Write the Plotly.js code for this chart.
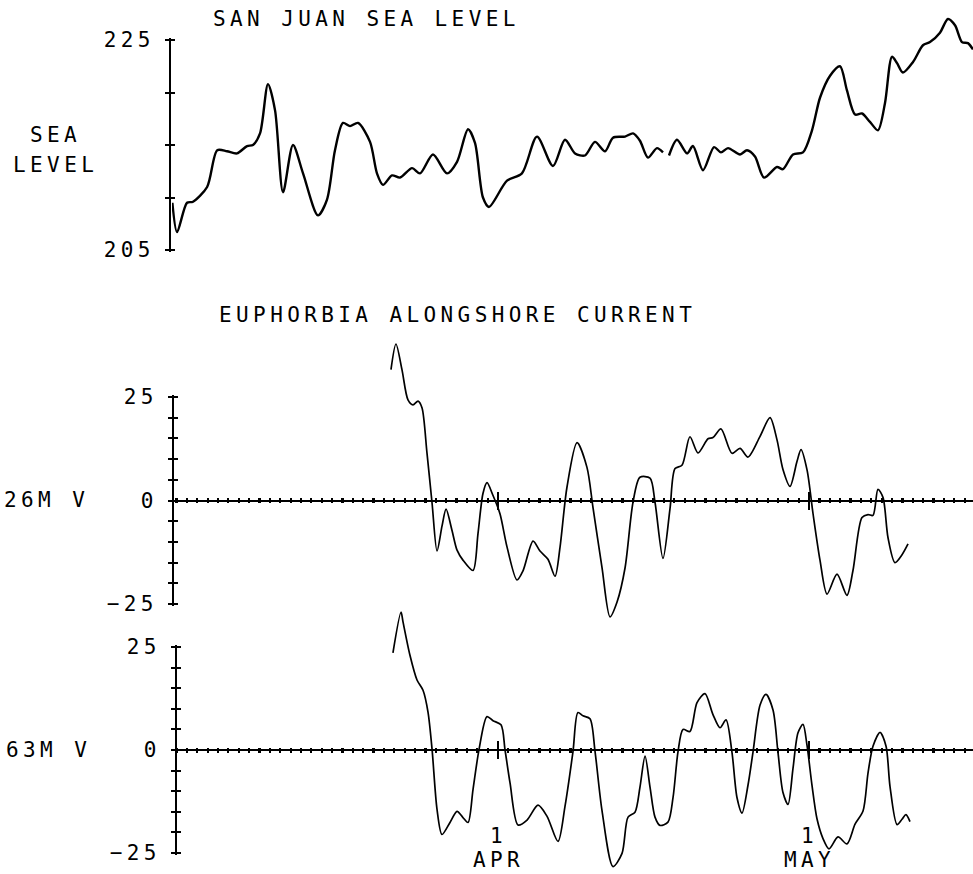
<!DOCTYPE html>
<html><head><meta charset="utf-8">
<script src="https://cdn.plot.ly/plotly-3.0.1.min.js"></script>
<style>
html,body{margin:0;padding:0;background:#fff;}
#chart{width:973px;height:874px;}
svg text{letter-spacing:4.4px;}
</style></head><body><div id="chart"></div>
<script>
// ---------------- data (x = days relative to 1 April) ----------------
const seaDays = [-31.4,-30.95,-29.99,-29.41,-28.05,-27.07,-26.13,-25.17,-24.20,-23.63,-22.95,-22.18,-21.50,-20.73,-19.77,-18.80,-17.36,-16.49,-15.72,-14.95,-14.27,-13.50,-12.34,-11.67,-11.09,-10.22,-9.45,-8.29,-7.52,-6.27,-4.92,-3.95,-2.89,-2.22,-1.45,-0.87,0.87,2.31,3.76,5.30,6.46,7.43,8.39,9.35,10.32,11.09,12.25,13.02,13.69,14.46,15.33,15.91,16.2,16.49,17.26,18.23,18.80,19.77,20.83,21.50,22.18,23.34,24.01,24.78,25.65,26.90,27.48,28.45,29.41,30.28,31.05,32.02,32.98,33.65,34.43,35.10,35.87,36.64,37.32,37.99,38.48,39.05,40.02,40.98,41.66,42.62,43.39,44.07,44.74,45.32,45.80];
const seaLevel = [209.5,206.7,209.5,209.6,211.0,214.5,214.4,214.2,214.9,215.0,216.1,220.8,218.3,210.5,215.0,212.3,208.3,209.8,214.5,217.1,216.8,217.1,215.3,212.3,211.2,212.1,211.9,212.8,212.3,214.1,212.3,213.4,216.5,215.2,210.0,209.1,211.6,212.3,215.8,213.0,215.5,214.2,214.0,215.3,214.4,215.7,215.8,216.1,215.4,213.8,214.7,214.3,null,214.0,215.5,214.2,214.9,212.6,214.8,214.3,214.7,214.1,214.5,213.9,211.9,212.9,212.7,214.1,214.3,216.4,219.5,221.6,222.5,220.2,217.9,218.0,217.2,216.4,219.0,223.4,222.8,221.9,222.9,224.5,224.8,225.7,227.0,226.4,224.8,224.7,224.1];

const v26Days = [-10.32,-9.84,-9.26,-8.68,-8.20,-7.71,-7.33,-6.85,-6.36,-5.88,-5.40,-5.01,-4.44,-3.95,-3.38,-2.41,-1.93,-1.45,-1.06,-0.48,0.19,0.87,1.83,2.41,3.38,4.05,4.82,5.50,5.98,6.65,7.62,8.58,9.16,10.03,10.80,11.48,12.25,13.02,13.69,14.66,15.14,15.91,16.59,17.07,17.74,18.51,19.29,20.25,20.73,21.50,22.56,23.34,24.11,25.27,26.23,26.90,27.48,28.16,28.83,29.22,29.80,30.38,31.05,31.73,32.69,33.65,34.23,35.10,35.68,36.16,36.64,37.13,37.61,38.28,38.96,39.54];
const v26 = [31.6,37.8,31.6,24.3,23.1,24.0,22.4,11.5,-0.6,-12.2,-6.2,-2.1,-7.2,-12.0,-14.4,-16.9,-8.0,1.7,4.3,1.2,-3.2,-11.2,-19.2,-17.0,-9.8,-12.2,-14.2,-18.3,-11.3,3.2,14.0,8.0,-1.7,-16.2,-28.1,-24.5,-16.3,-0.4,5.6,5.4,-0.4,-14.0,-1.9,7.7,8.5,15.4,11.5,14.9,15.2,17.3,11.4,12.6,10.5,15.5,20.0,14.7,7.5,3.4,9.4,12.3,7.4,-3.2,-14.4,-22.6,-17.8,-22.9,-16.9,-4.1,-3.4,-3.6,2.7,0.7,-9.0,-15.0,-13.1,-10.5];

const v63Days = [-10.13,-9.35,-9.16,-8.49,-7.81,-7.23,-6.75,-6.36,-5.88,-5.40,-4.63,-3.95,-3.38,-2.89,-2.41,-1.83,-1.06,-0.48,0.29,0.68,1.16,1.93,2.80,3.86,4.73,5.79,6.46,7.23,7.71,8.20,8.87,9.35,10.03,11.09,11.96,12.54,13.21,13.69,14.18,14.66,15.14,15.62,16.39,16.88,17.36,17.84,18.51,19.19,19.96,20.73,21.41,21.99,22.56,23.05,23.53,24.11,24.59,25.27,25.84,26.52,27.00,27.48,27.97,28.45,28.93,29.41,29.80,30.28,30.76,31.34,31.92,32.79,33.65,34.43,35.20,35.68,36.16,36.84,37.42,37.80,38.48,38.96,39.34,39.73];
const v63 = [23.6,33.5,31.1,23.0,17.0,14.5,9.2,0.2,-14.4,-20.5,-17.6,-14.9,-16.4,-17.6,-9.6,0.1,8.1,7.1,6.1,0.0,-8.0,-18.2,-17.0,-13.4,-16.1,-22.2,-13.7,-0.4,9.1,8.3,7.6,-0.2,-14.7,-28.3,-25.1,-16.3,-15.1,-9.0,-1.5,-9.0,-16.3,-18.3,-17.5,-11.5,-0.4,5.0,4.5,11.5,13.7,8.6,5.4,7.3,-0.5,-11.6,-15.3,-8.5,-0.5,10.9,13.5,9.7,-0.6,-10.3,-13.2,-4.4,4.2,6.2,1.1,-8.6,-16.7,-21.5,-24.0,-21.1,-22.8,-18.0,-14.8,-5.6,0.9,4.3,0.9,-8.8,-18.1,-16.8,-15.7,-17.4];

const monthTickDays = [0, 30];
const monthDayText = ['1', '1'];
const monthNameText = ['APR', 'MAY'];

const seaTicks = [205, 210, 215, 220, 225];
const seaTickText = ['205', '', '', '', '225'];
const velTicks = [-25, -20, -15, -10, -5, 0, 5, 10, 15, 20, 25];
const velTickText = ['\u221225', '', '', '', '', '0', '', '', '', '', '25'];

const titleTop = 'SAN JUAN SEA LEVEL';
const titleMid = 'EUPHORBIA ALONGSHORE CURRENT';
const labelTop = ['SEA', 'LEVEL'];
const labelMid = '26M V';
const labelBot = '63M V';

// ---------------- layout geometry (pixels) ----------------
const W = 973, H = 874;
const FONT = {family: 'DejaVu Sans Mono', size: 21, color: '#000'};
const aprPx = 498, pxPerDay = 10.37, xLeftPx = 172, xRightPx = 973;
const xRange = [(xLeftPx - aprPx) / pxPerDay, (xRightPx - aprPx) / pxPerDay];
const xDom = [xLeftPx / W, xRightPx / W];

function yd(pTop, pBot) { return [1 - pBot / H, 1 - pTop / H]; }
function yr(pTop, pBot, pA, vA, pB, vB) {
  const s = (vA - vB) / (pB - pA);
  return [vA + (pA - pBot) * s, vA + (pA - pTop) * s];
}
const P = [
  {pA: 40, vA: 225, pB: 250, vB: 205, ax: 170, dTop: 5, dBot: 262, zero: null},
  {pA: 397, vA: 25, pB: 604, vB: -25, ax: 173, dTop: 322, dBot: 628, zero: 500.5},
  {pA: 647, vA: 25, pB: 853, vB: -25, ax: 176, dTop: 595, dBot: 874, zero: 750}
];
const EDGE = 2; // px beyond the end ticks so that their marks are drawn

const layout = {
  width: W, height: H,
  margin: {l: 0, r: 0, t: 0, b: 0},
  paper_bgcolor: '#fff', plot_bgcolor: 'rgba(0,0,0,0)',
  showlegend: false,
  font: FONT,
  xaxis: {domain: xDom, range: xRange, visible: false, anchor: 'y', fixedrange: true},
  xaxis2: {domain: xDom, range: xRange, anchor: 'y7', showgrid: true, gridcolor: '#000', gridwidth: 2.2,
           tick0: 0, dtick: 1, ticks: '', showticklabels: false, zeroline: false, showline: false},
  xaxis3: {domain: xDom, range: xRange, anchor: 'y9', showgrid: true, gridcolor: '#000', gridwidth: 2,
           tickmode: 'array', tickvals: monthTickDays, ticks: '', showticklabels: false, zeroline: false, showline: false},
  annotations: []
};
const dataYs = ['yaxis', 'yaxis2', 'yaxis3'];
const dispYs = ['yaxis4', 'yaxis5', 'yaxis6'];
const smallXs = ['xaxis4', 'xaxis5', 'xaxis6'];
P.forEach((p, i) => {
  layout[dataYs[i]] = {domain: yd(p.dTop, p.dBot), range: yr(p.dTop, p.dBot, p.pA, p.vA, p.pB, p.vB),
                       visible: false, anchor: 'x', fixedrange: true};
  const isTop = i === 0;
  const t = p.pA - EDGE, b = p.pB + EDGE;
  layout[dispYs[i]] = {domain: yd(t, b), range: yr(t, b, p.pA, p.vA, p.pB, p.vB), anchor: 'free', position: p.ax / W,
                       showline: true, linewidth: 2, linecolor: '#000', zeroline: false,
                       showgrid: true, gridcolor: '#000', gridwidth: 2,
                       tickmode: 'array', tickvals: isTop ? seaTicks : velTicks,
                       ticktext: isTop ? seaTickText : velTickText, ticks: '',
                       ticklabelstandoff: 10, tickfont: FONT};
  layout[smallXs[i]] = {domain: [(p.ax - 5) / W, (p.ax + 5) / W], range: [0, 1], visible: false,
                        anchor: 'y' + (4 + i)};
});
layout.yaxis7 = {domain: yd(P[1].zero - 2.5, P[1].zero + 2.5), range: [-1, 1], anchor: 'x2', showgrid: false,
                 zeroline: true, zerolinecolor: '#000', zerolinewidth: 2, showticklabels: false, ticks: ''};
layout.yaxis8 = {domain: yd(P[2].zero - 2.5, P[2].zero + 2.5), range: [-1, 1], anchor: 'x2', showgrid: false,
                 zeroline: true, zerolinecolor: '#000', zerolinewidth: 2, showticklabels: false, ticks: ''};
layout.yaxis9 = {domain: yd(P[1].zero - 9, P[1].zero + 9), range: [-1, 1], anchor: 'x3', showgrid: false,
                 zeroline: false, showticklabels: false, ticks: ''};
layout.yaxis10 = {domain: yd(P[2].zero - 9, P[2].zero + 9), range: [-1, 1], anchor: 'x3', showgrid: false,
                  zeroline: false, showticklabels: false, ticks: ''};

function ann(text, xPx, yPx, xanchor) {
  return {text: text, xref: 'paper', yref: 'paper', x: xPx / W, y: 1 - yPx / H,
          xanchor: xanchor || 'left', yanchor: 'middle', showarrow: false, font: FONT};
}
layout.annotations.push(ann(titleTop, 211, 19));
layout.annotations.push(ann(labelTop[0], 55, 135, 'center'));
layout.annotations.push(ann(labelTop[1], 55, 165, 'center'));
layout.annotations.push(ann(titleMid, 217, 315));
layout.annotations.push(ann(labelMid, 2, 500));
layout.annotations.push(ann(labelBot, 4, 750));
monthTickDays.forEach((d, i) => {
  layout.annotations.push({text: monthDayText[i], xref: 'x', yref: 'paper', x: d, y: 1 - 836 / H,
    xanchor: 'center', yanchor: 'middle', showarrow: false, font: FONT});
  layout.annotations.push({text: monthNameText[i], xref: 'x', yref: 'paper', x: d, y: 1 - 860 / H,
    xanchor: 'center', yanchor: 'middle', showarrow: false, font: FONT});
});

const lineStyle = w => ({color: '#000', width: w, shape: 'spline', smoothing: 0.8});
const data = [
  {x: seaDays, y: seaLevel, xaxis: 'x', yaxis: 'y', mode: 'lines', line: lineStyle(2.4), connectgaps: false, hoverinfo: 'skip'},
  {x: v26Days, y: v26, xaxis: 'x', yaxis: 'y2', mode: 'lines', line: lineStyle(1.7), hoverinfo: 'skip'},
  {x: v63Days, y: v63, xaxis: 'x', yaxis: 'y3', mode: 'lines', line: lineStyle(1.7), hoverinfo: 'skip'}
];
[['x4', 'y4'], ['x5', 'y5'], ['x6', 'y6'], ['x2', 'y7'], ['x2', 'y8'], ['x3', 'y9'], ['x3', 'y10']].forEach(s => {
  data.push({x: [null], y: [null], xaxis: s[0], yaxis: s[1], mode: 'lines', hoverinfo: 'skip', showlegend: false});
});

Plotly.newPlot('chart', data, layout, {staticPlot: true, displayModeBar: false});
</script></body></html>
